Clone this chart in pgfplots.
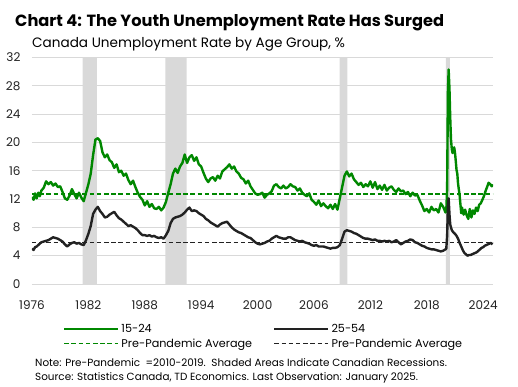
\documentclass[border=0pt]{standalone}
\usepackage{pgfplots}
\pgfplotsset{compat=1.18}
\usepackage{pgfplotstable}
\usepackage{fontspec}
\setmainfont{Poppins}
\definecolor{tdgreen}{RGB}{0,136,0}
\definecolor{tdblack}{RGB}{34,34,34}
\definecolor{recgray}{RGB}{217,217,217}
\definecolor{gridgray}{RGB}{217,217,217}
\pgfplotstableread{
x y
1976.00 12.3
1976.17 11.9
1976.33 12.8
1976.50 12.1
1976.67 12.9
1976.83 12.4
1977.00 13.2
1977.25 13.6
1977.50 14.5
1977.75 14.1
1978.00 14.4
1978.25 13.9
1978.50 14.2
1978.75 13.7
1979.00 13.8
1979.25 13.0
1979.50 12.1
1979.75 11.9
1980.00 12.5
1980.25 13.4
1980.50 12.7
1980.75 12.1
1981.00 12.9
1981.25 12.2
1981.50 11.7
1981.75 12.9
1982.00 14.1
1982.25 15.6
1982.50 18.2
1982.75 20.4
1983.00 20.6
1983.25 20.2
1983.50 18.6
1983.75 17.9
1984.00 18.3
1984.25 17.5
1984.50 17.2
1984.75 16.4
1985.00 16.9
1985.25 15.8
1985.50 16.0
1985.75 15.3
1986.00 15.6
1986.25 14.7
1986.50 14.1
1986.75 14.6
1987.00 13.7
1987.25 12.9
1987.50 12.3
1987.75 11.9
1988.00 11.1
1988.25 11.7
1988.50 10.9
1988.75 11.3
1989.00 10.7
1989.25 10.6
1989.50 10.9
1989.75 10.4
1990.00 10.8
1990.25 11.6
1990.50 12.9
1990.75 14.1
1991.00 15.6
1991.25 16.3
1991.50 15.7
1991.75 16.6
1992.00 17.1
1992.25 18.3
1992.50 17.1
1992.75 17.9
1993.00 18.2
1993.25 17.4
1993.50 17.9
1993.75 16.9
1994.00 16.6
1994.25 15.7
1994.50 14.9
1994.75 14.4
1995.00 14.9
1995.25 15.1
1995.50 14.6
1995.75 15.3
1996.00 14.9
1996.25 15.9
1996.50 16.2
1996.75 16.5
1997.00 16.9
1997.25 16.3
1997.50 16.6
1997.75 15.9
1998.00 15.6
1998.25 15.0
1998.50 14.8
1998.75 14.2
1999.00 14.6
1999.25 13.8
1999.50 13.3
1999.75 12.8
2000.00 12.6
2000.25 12.7
2000.50 12.9
2000.75 12.2
2001.00 12.6
2001.25 12.8
2001.50 13.1
2001.75 13.9
2002.00 14.1
2002.25 13.7
2002.50 13.5
2002.75 13.9
2003.00 13.5
2003.25 13.7
2003.50 14.1
2003.75 13.8
2004.00 13.7
2004.25 13.2
2004.50 13.5
2004.75 12.9
2005.00 12.6
2005.25 12.4
2005.50 12.8
2005.75 11.9
2006.00 11.6
2006.25 11.2
2006.50 11.8
2006.75 11.0
2007.00 11.4
2007.25 11.0
2007.50 10.7
2007.75 11.2
2008.00 10.6
2008.25 11.3
2008.50 10.5
2008.75 12.1
2009.00 13.7
2009.25 15.3
2009.50 15.9
2009.75 15.2
2010.00 15.6
2010.25 14.8
2010.50 14.4
2010.75 14.0
2011.00 14.3
2011.25 13.7
2011.50 14.1
2011.75 13.8
2012.00 14.5
2012.25 13.6
2012.50 14.4
2012.75 13.4
2013.00 13.9
2013.25 13.3
2013.50 14.0
2013.75 13.2
2014.00 13.6
2014.25 13.8
2014.50 13.3
2014.75 13.0
2015.00 13.5
2015.25 13.1
2015.50 13.2
2015.75 12.7
2016.00 13.0
2016.25 12.4
2016.50 12.9
2016.75 12.5
2017.00 12.6
2017.25 11.8
2017.50 11.1
2017.75 10.3
2018.00 10.6
2018.25 10.1
2018.50 10.9
2018.75 10.4
2019.00 10.6
2019.25 10.1
2019.50 11.4
2019.75 10.9
2020.00 10.1
2020.08 10.4
2020.17 13.4
2020.25 27.0
2020.33 30.3
2020.42 27.5
2020.50 23.4
2020.58 20.4
2020.67 19.0
2020.75 18.5
2020.83 18.9
2020.92 19.3
2021.00 18.6
2021.08 17.5
2021.17 16.1
2021.25 15.6
2021.33 14.2
2021.50 12.5
2021.58 11.3
2021.67 10.0
2021.75 10.8
2021.92 9.8
2022.08 10.5
2022.25 9.7
2022.42 9.2
2022.58 10.6
2022.75 9.4
2022.92 10.4
2023.08 9.9
2023.25 10.8
2023.42 10.3
2023.58 11.2
2023.75 11.4
2023.92 11.9
2024.08 12.4
2024.25 13.1
2024.42 13.7
2024.58 14.3
2024.75 14.1
2024.92 13.8
2025.00 14.1
}\youth
\pgfplotstableread{
x y
1976.00 5.0
1976.17 4.8
1976.33 5.2
1976.50 5.3
1976.75 5.6
1977.00 5.9
1977.25 6.0
1977.50 6.1
1977.75 6.2
1978.00 6.4
1978.25 6.6
1978.50 6.5
1978.75 6.4
1979.00 6.2
1979.25 6.0
1979.50 5.6
1979.75 5.3
1980.00 5.6
1980.25 5.8
1980.50 5.9
1980.75 5.7
1981.00 5.8
1981.25 5.6
1981.50 5.5
1981.75 6.2
1982.00 7.1
1982.25 8.2
1982.50 9.9
1982.75 10.5
1983.00 10.9
1983.25 10.3
1983.50 9.9
1983.75 9.4
1984.00 9.5
1984.25 9.8
1984.50 10.0
1984.75 10.2
1985.00 9.7
1985.25 9.3
1985.50 9.1
1985.75 8.8
1986.00 8.5
1986.25 8.2
1986.50 8.3
1986.75 8.1
1987.00 7.9
1987.25 7.6
1987.50 7.2
1987.75 6.9
1988.00 6.9
1988.25 6.8
1988.50 6.9
1988.75 6.7
1989.00 6.8
1989.25 6.6
1989.50 6.5
1989.75 6.6
1990.00 6.4
1990.25 6.9
1990.50 7.5
1990.75 8.6
1991.00 9.2
1991.25 9.4
1991.50 9.5
1991.75 9.6
1992.00 9.8
1992.25 10.1
1992.50 10.5
1992.75 10.8
1993.00 10.3
1993.25 10.4
1993.50 10.3
1993.75 10.0
1994.00 9.8
1994.25 9.6
1994.50 9.2
1994.75 9.0
1995.00 8.7
1995.25 8.5
1995.50 8.3
1995.75 8.1
1996.00 8.4
1996.25 8.6
1996.50 8.7
1996.75 8.8
1997.00 8.4
1997.25 8.0
1997.50 7.7
1997.75 7.5
1998.00 7.3
1998.25 7.2
1998.50 7.0
1998.75 6.8
1999.00 6.6
1999.25 6.5
1999.50 6.2
1999.75 5.9
2000.00 5.7
2000.25 5.6
2000.50 5.7
2000.75 5.8
2001.00 6.0
2001.25 6.1
2001.50 6.4
2001.75 6.6
2002.00 6.8
2002.25 6.6
2002.50 6.5
2002.75 6.4
2003.00 6.4
2003.25 6.6
2003.50 6.6
2003.75 6.4
2004.00 6.2
2004.25 6.1
2004.50 6.0
2004.75 6.1
2005.00 5.9
2005.25 5.8
2005.50 5.7
2005.75 5.5
2006.00 5.4
2006.25 5.5
2006.50 5.3
2006.75 5.3
2007.00 5.3
2007.25 5.2
2007.50 5.1
2007.75 5.0
2008.00 5.1
2008.25 5.1
2008.50 5.2
2008.75 5.5
2009.00 6.4
2009.25 7.4
2009.50 7.6
2009.75 7.5
2010.00 7.4
2010.25 7.2
2010.50 7.1
2010.75 6.9
2011.00 6.7
2011.25 6.5
2011.50 6.4
2011.75 6.4
2012.00 6.3
2012.25 6.2
2012.50 6.3
2012.75 6.1
2013.00 6.1
2013.25 6.0
2013.50 6.1
2013.75 6.0
2014.00 6.1
2014.25 5.9
2014.50 6.0
2014.75 6.2
2015.00 5.9
2015.25 5.6
2015.50 5.8
2015.75 6.0
2016.00 6.1
2016.25 6.3
2016.50 6.2
2016.75 5.9
2017.00 5.8
2017.25 5.6
2017.50 5.4
2017.75 5.3
2018.00 5.1
2018.25 5.0
2018.50 4.9
2018.75 4.9
2019.00 4.8
2019.25 4.7
2019.50 4.6
2019.75 4.7
2020.00 4.9
2020.08 5.0
2020.17 6.8
2020.25 11.0
2020.33 12.1
2020.42 9.8
2020.50 8.4
2020.58 8.0
2020.67 7.6
2020.83 7.3
2021.00 7.1
2021.17 6.8
2021.33 6.4
2021.50 5.8
2021.67 5.3
2021.83 4.8
2022.00 4.4
2022.17 4.2
2022.33 4.0
2022.50 4.1
2022.67 4.1
2022.83 4.2
2023.00 4.3
2023.17 4.4
2023.33 4.5
2023.50 4.7
2023.67 4.9
2023.83 5.1
2024.00 5.2
2024.17 5.4
2024.33 5.5
2024.50 5.6
2024.67 5.7
2024.83 5.8
2025.00 5.6
}\core
\begin{document}
\begin{tikzpicture}
\useasboundingbox (0pt,0pt) rectangle (518pt,387pt);
\node[anchor=base west, inner sep=0pt, font=\fontsize{16.2}{19}\selectfont\bfseries] at (15pt,360pt) {Chart 4: The Youth Unemployment Rate Has Surged};
\node[anchor=base west, inner sep=0pt, font=\fontsize{13.6}{16}\selectfont] at (32pt,339pt) {Canada Unemployment Rate by Age Group, \%};
\begin{axis}[
  at={(32pt,103pt)}, anchor=south west,
  scale only axis, width=461pt, height=226.5pt,
  xmin=1976, xmax=2025.05, ymin=0, ymax=32,
  xtick={1976,1982,...,2024}, ytick={0,4,...,32},
  major tick length=0pt,
  axis line style={draw=none},
  ymajorgrids, grid style={gridgray, line width=0.9pt},
  /pgf/number format/assume math mode=true,
  /pgf/number format/1000 sep={},
  tick label style={font=\fontsize{12}{14}\selectfont, text=tdblack},
  yticklabel style={xshift=-8pt},
  xticklabel style={yshift=-13.5pt},
  legend columns=2,
  legend cell align=left,
  legend style={at={(0.067,-0.168)}, anchor=north west, draw=none, fill=none,
    font=\fontsize{11.2}{14}\selectfont, inner sep=0pt, row sep=0.5pt,
    /tikz/every even column/.append style={column sep=19pt}},
  legend image code/.code={\draw[#1] (0pt,0pt) -- (54pt,0pt);},
]
\addplot[fill=recgray, draw=none, forget plot] coordinates {(1981.38,0) (1981.38,32) (1982.9,32) (1982.9,0)} \closedcycle;
\addplot[fill=recgray, draw=none, forget plot] coordinates {(1990.18,0) (1990.18,32) (1992.45,32) (1992.45,0)} \closedcycle;
\addplot[fill=recgray, draw=none, forget plot] coordinates {(2008.73,0) (2008.73,32) (2009.55,32) (2009.55,0)} \closedcycle;
\addplot[fill=recgray, draw=none, forget plot] coordinates {(2020.03,0) (2020.03,32) (2020.46,32) (2020.46,0)} \closedcycle;
\addplot[tdgreen, line width=2.4pt, line join=round] table[x=x,y=y] {\youth};
\addlegendentry{15-24}
\addplot[tdblack, line width=2.4pt, line join=round] table[x=x,y=y] {\core};
\addlegendentry{25-54}
\addplot[tdgreen, line width=1.6pt, dash pattern=on 4.5pt off 2.7pt] coordinates {(1976,12.7) (2025.05,12.7)};
\addlegendentry{Pre-Pandemic Average}
\addplot[tdblack, line width=1.6pt, dash pattern=on 4.5pt off 2.7pt] coordinates {(1976,5.85) (2025.05,5.85)};
\addlegendentry{Pre-Pandemic Average}
\end{axis}
\node[anchor=base west, inner sep=0pt, font=\fontsize{10.4}{12}\selectfont] at (35pt,20pt) {Note: Pre-Pandemic \ =2010-2019.\ \ Shaded Areas Indicate Canadian Recessions.};
\node[anchor=base west, inner sep=0pt, font=\fontsize{10.4}{12}\selectfont] at (35pt,6.5pt) {Source: Statistics Canada, TD Economics. Last Observation: January 2025.};
\end{tikzpicture}
\end{document}
